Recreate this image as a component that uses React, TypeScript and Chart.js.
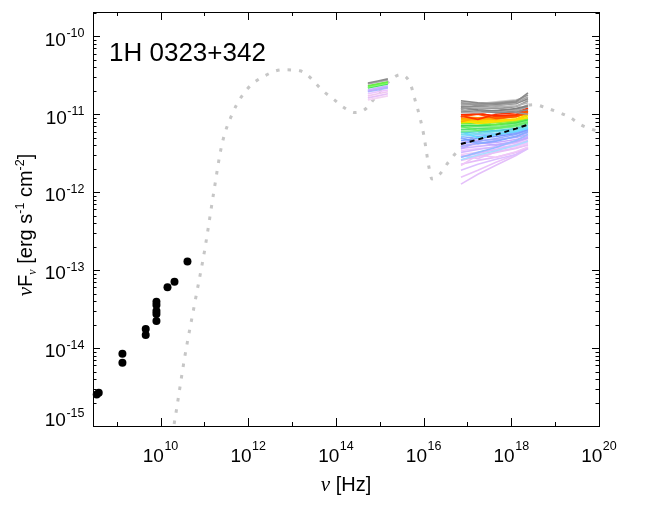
import { useEffect, useRef } from 'react'
import { Chart, registerables } from 'chart.js'

Chart.register(...registerables)

// radio points, nu [Hz] and nuFnu [erg s-1 cm-2]
const radioFreq = [3.5e8, 3.89e8, 1.35e9, 1.35e9, 4.59e9, 4.59e9, 8.06e9, 8.06e9, 8.06e9, 8.06e9, 8.06e9, 1.44e10, 2.08e10, 4.11e10]
const radioFlux = [2.54e-15, 2.67e-15, 8.45e-15, 6.5e-15, 1.76e-14, 1.47e-14, 3.94e-14, 3.56e-14, 2.99e-14, 2.74e-14, 2.23e-14, 6.04e-14, 7.08e-14, 1.29e-13]

// SED model curve (dotted grey)
const modelFreq = [1.85e10, 2.22e10, 3.57e10, 6.03e10, 1.02e11, 1.64e11, 2.49e11, 4.45e11, 9.27e11, 2.65e12, 6.15e12, 1.5e13, 5.58e13, 8.97e13, 1.52e14, 2.7e14, 4.57e14, 9.55e14, 1.7e15, 2.88e15, 4.86e15, 6.32e15, 8.22e15, 1.01e16, 1.19e16, 1.32e16, 1.55e16, 2.35e16, 3.4e16, 5.18e16, 1.93e17, 7.16e17, 3.29e18, 5.85e18, 1.22e19, 2.18e19, 3.68e19, 6.92e19, 1e20]
const modelFlux = [7.6e-16, 1.41e-15, 7.74e-15, 3.78e-14, 1.84e-13, 1.01e-12, 4.01e-12, 1.05e-11, 2.07e-11, 3.21e-11, 3.72e-11, 3.61e-11, 1.9e-11, 1.55e-11, 1.22e-11, 1.05e-11, 1.15e-11, 1.9e-11, 2.7e-11, 3.21e-11, 2.54e-11, 1.55e-11, 9.12e-12, 5.38e-12, 2.99e-12, 2.1e-12, 1.48e-12, 1.71e-12, 2.29e-12, 3.08e-12, 5.86e-12, 9.93e-12, 1.33e-11, 1.22e-11, 1.05e-11, 9.12e-12, 7.41e-12, 6.4e-12, 6.04e-12]

// optical/UV spectra, flux in units of 1e-11
const opticalFreq = [5.35e14, 9.05e14, 1.53e15]
const opticalFluxE11 = [
  [2.52, 2.67, 2.84],
  [2.45, 2.6, 2.75],
  [2.31, 2.45, 2.6],
  [2.24, 2.38, 2.52],
  [2.18, 2.31, 2.45],
  [2.05, 2.18, 2.31],
  [1.99, 2.11, 2.24],
  [1.94, 2.05, 2.18],
  [1.83, 1.94, 2.05],
  [1.72, 1.83, 1.94],
  [1.62, 1.72, 1.83],
  [1.53, 1.62, 1.72],
]
const opticalColors = ['#8c8c8c', '#aaaaaa', '#66ee44', '#88ff66', '#44dd66', '#c8b4ff', '#bbaaff', '#aabbff', '#eec4ff', '#f0c8f0', '#e8c0f8', '#f4d4f4']

// X-ray spectra, flux in units of 1e-11
const xrayFreq = [7.1e16, 1.73e17, 4.47e17, 1.28e18, 2.4e18]
const xrayFluxE11 = [
  [1.49, 1.4, 1.36, 1.44, 1.88],
  [1.4, 1.32, 1.4, 1.49, 1.77],
  [1.32, 1.36, 1.28, 1.4, 1.67],
  [1.25, 1.28, 1.32, 1.36, 1.58],
  [1.28, 1.21, 1.25, 1.28, 1.4],
  [1.18, 1.25, 1.18, 1.25, 1.49],
  [1.21, 1.14, 1.11, 1.18, 1.28],
  [1.11, 1.18, 1.21, 1.11, 1.25],
  [1.08, 1.11, 1.05, 1.08, 1.14],
  [1.05, 1.05, 1.08, 1.14, 1.32],
  [1.44, 1.36, 1.44, 1.53, 1.62],
  [1.36, 1.4, 1.32, 1.44, 1.53],
  [1.15, 1.3, 1.2, 1.05, 1.0],
  [0.986, 1.015, 0.957, 0.986, 1.18],
  [0.929, 1.045, 0.929, 0.957, 1.11],
  [0.95, 0.86, 1.0, 1.05, 1.2],
  [0.93, 1.0, 0.88, 0.93, 1.05],
  [0.929, 0.903, 0.929, 0.986, 1.11],
  [0.876, 0.876, 0.903, 0.929, 1.045],
  [0.8, 0.9, 0.86, 0.95, 1.0],
  [0.851, 0.851, 0.876, 0.957, 1.08],
  [0.827, 0.827, 0.827, 0.876, 0.986],
  [0.84, 0.76, 0.8, 0.85, 0.9],
  [0.78, 0.803, 0.827, 0.851, 0.957],
  [0.803, 0.78, 0.78, 0.827, 0.903],
  [0.757, 0.757, 0.735, 0.803, 0.876],
  [0.714, 0.714, 0.735, 0.78, 0.851],
  [0.7, 0.62, 0.66, 0.72, 0.8],
  [0.673, 0.693, 0.693, 0.757, 0.827],
  [0.635, 0.654, 0.673, 0.735, 0.78],
  [0.599, 0.617, 0.654, 0.693, 0.757],
  [0.581, 0.599, 0.617, 0.654, 0.735],
  [0.6, 0.5, 0.55, 0.6, 0.66],
  [0.548, 0.565, 0.599, 0.635, 0.693],
  [0.517, 0.548, 0.565, 0.617, 0.673],
  [0.488, 0.517, 0.548, 0.581, 0.654],
  [0.46, 0.488, 0.517, 0.565, 0.635],
  [0.5, 0.42, 0.45, 0.52, 0.6],
  [0.421, 0.447, 0.488, 0.548, 0.617],
  [0.386, 0.421, 0.46, 0.517, 0.581],
  [0.28, 0.324, 0.375, 0.46, 0.548],
  [0.26, 0.3, 0.34, 0.4, 0.45],
  [0.434, 0.46, 0.474, 0.502, 0.548],
  [0.397, 0.421, 0.434, 0.474, 0.517],
  [0.36, 0.44, 0.4, 0.45, 0.5],
  [0.364, 0.386, 0.409, 0.447, 0.502],
  [0.324, 0.353, 0.386, 0.434, 0.488],
  [0.28, 0.314, 0.353, 0.409, 0.46],
  [0.343, 0.364, 0.375, 0.397, 0.434],
  [0.305, 0.324, 0.353, 0.386, 0.421],
  [0.3, 0.27, 0.33, 0.37, 0.4],
  [0.256, 0.288, 0.324, 0.364, 0.409],
  [0.22, 0.3, 0.28, 0.33, 0.38],
  [0.228, 0.256, 0.28, 0.324, 0.375],
  [0.191, 0.228, 0.264, 0.305, 0.364],
  [0.155, 0.191, 0.242, 0.305, 0.375],
  [0.127, 0.17, 0.222, 0.296, 0.364],
  [0.386, 0.397, 0.409, 0.421, 0.46],
]
const xrayColors = [
  '#8c8c8c', '#999999', '#a6a6a6', '#8c8c8c', '#b3b3b3', '#999999', '#808080', '#a6a6a6', '#8c8c8c', '#b3b3b3', '#cccccc', '#d0d0d0', '#9a9a9a',
  '#ff2a00', '#ff4a00', '#ff3300', '#ff5500', '#ff8c00', '#ffa200', '#ffaa00', '#ffb800', '#ffd900', '#ffe000', '#e2e800',
  '#a0ee30', '#66ee44', '#40dd55', '#66ee66', '#88ee88', '#55dd77', '#77ee99',
  '#55ccdd', '#66ddff', '#77ddee', '#88ccff',
  '#88aaff', '#7799ff', '#88aaff', '#99aaff', '#aab0ff', '#99bbff', '#aaddff',
  '#bbaaff', '#c8aaff', '#c0a8ff', '#ccb4ff', '#d4b8ff', '#dcbcff',
  '#eec4ff', '#f2ccf8', '#e8c0f8', '#e8c0f4', '#f0c8f8', '#e6bcf8', '#ddc0ff', '#eac4fa', '#e4c0fa', '#f6dcf6',
]
const meanXrayFluxE11 = [0.416, 0.474, 0.548, 0.654, 0.735]

const sourceName = '1H 0323+342'
const xLabelExps = [10, 12, 14, 16, 18, 20]
const yLabelExps = [-10, -11, -12, -13, -14, -15]

const SANS = '"Liberation Sans", Arial, Helvetica, sans-serif'
const SERIF = '"Liberation Serif", "Times New Roman", serif'

type Seg = { t: string; font: string; dy: number }

function drawSegs(ctx: CanvasRenderingContext2D, segs: Seg[], cx: number, base: number) {
  let total = 0
  for (const s of segs) {
    ctx.font = s.font
    total += ctx.measureText(s.t).width
  }
  let x = cx - total / 2
  for (const s of segs) {
    ctx.font = s.font
    ctx.fillText(s.t, x, base + s.dy)
    x += ctx.measureText(s.t).width
  }
}

function drawPow(ctx: CanvasRenderingContext2D, exp: string, x: number, base: number, rise: number, align: 'center' | 'right') {
  ctx.font = `19px ${SANS}`
  const w1 = ctx.measureText('10').width
  ctx.font = `12.5px ${SANS}`
  const w2 = ctx.measureText(exp).width
  const total = w1 + 0.5 + w2
  const start = align === 'center' ? x - total / 2 : x - total
  ctx.font = `19px ${SANS}`
  ctx.fillText('10', start, base)
  ctx.font = `12.5px ${SANS}`
  ctx.fillText(exp, start + w1 + 0.5, base - rise)
}

const framePlugin = {
  id: 'framePlugin',
  afterDraw(chart: any) {
    const { ctx, chartArea: a, scales } = chart
    const xs = scales.x
    const ys = scales.y
    ctx.save()
    ctx.strokeStyle = '#000'
    ctx.fillStyle = '#000'
    ctx.lineWidth = 1
    ctx.strokeRect(a.left + 0.5, a.top + 0.5, a.right - a.left, a.bottom - a.top)
    ctx.beginPath()
    for (let e = 9; e <= 19; e++) {
      const px = Math.round(xs.getPixelForValue(Math.pow(10, e))) + 0.5
      const len = e % 2 === 0 ? 8 : 4
      ctx.moveTo(px, a.bottom)
      ctx.lineTo(px, a.bottom - len)
      ctx.moveTo(px, a.top)
      ctx.lineTo(px, a.top + len)
    }
    for (let e = -15; e <= -10; e++) {
      for (let m = 1; m <= 9; m++) {
        const v = m * Math.pow(10, e)
        if (v > ys.max) continue
        const py = Math.round(ys.getPixelForValue(v)) + 0.5
        const len = m === 1 ? 7 : 3.5
        ctx.moveTo(a.left, py)
        ctx.lineTo(a.left + len, py)
        ctx.moveTo(a.right, py)
        ctx.lineTo(a.right - len, py)
      }
    }
    ctx.stroke()

    ctx.textBaseline = 'alphabetic'
    ctx.textAlign = 'left'
    for (const e of xLabelExps) {
      const px = xs.getPixelForValue(Math.pow(10, e))
      drawPow(ctx, String(e), px, 453.7, 11.7, 'center')
    }
    for (const e of yLabelExps) {
      let base = ys.getPixelForValue(Math.pow(10, e)) + 9.3
      if (e === -15) base = 417.5
      drawPow(ctx, String(e), 76.5, base, 8.3, 'right')
    }

    // x axis title
    drawSegs(ctx, [
      { t: 'ν', font: `italic 21px ${SERIF}`, dy: 0 },
      { t: ' [Hz]', font: `20px ${SANS}`, dy: 0 },
    ], (a.left + a.right) / 2, 483)

    // y axis title
    ctx.save()
    ctx.translate(24, 217)
    ctx.rotate(-Math.PI / 2)
    drawSegs(ctx, [
      { t: 'ν', font: `italic 21px ${SERIF}`, dy: 0 },
      { t: 'F', font: `20px ${SANS}`, dy: 0 },
      { t: 'ν', font: `italic 12px ${SERIF}`, dy: 4 },
      { t: ' [erg s', font: `20px ${SANS}`, dy: 0 },
      { t: '-1', font: `12.5px ${SANS}`, dy: -8 },
      { t: ' cm', font: `20px ${SANS}`, dy: 0 },
      { t: '-2', font: `12.5px ${SANS}`, dy: -8 },
      { t: ']', font: `20px ${SANS}`, dy: 0 },
    ], 0, 0)
    ctx.restore()

    ctx.font = `26px ${SANS}`
    ctx.fillText(sourceName, 101, 53)
    ctx.restore()
  },
}

const App = () => {
  const canvas = useRef<HTMLCanvasElement>(null)

  useEffect(() => {
    if (!canvas.current) return
    const datasets: any[] = []

    datasets.push({
      label: 'radio',
      data: radioFreq.map((f, i) => ({ x: f, y: radioFlux[i] })),
      showLine: false,
      pointRadius: 4,
      pointBackgroundColor: '#000',
      pointBorderWidth: 0,
      clip: false,
      order: 0,
    })
    datasets.push({
      label: 'mean X-ray',
      data: xrayFreq.map((f, i) => ({ x: f, y: meanXrayFluxE11[i] * 1e-11 })),
      showLine: true,
      borderColor: '#000',
      borderWidth: 2,
      borderDash: [5, 4],
      pointRadius: 0,
      order: 1,
    })
    xrayFluxE11.forEach((row, k) => {
      datasets.push({
        label: 'xray' + k,
        data: row.map((v, i) => ({ x: xrayFreq[i], y: v * 1e-11 })),
        showLine: true,
        borderColor: xrayColors[k],
        borderWidth: 1.6,
        pointRadius: 0,
        order: 2,
      })
    })
    opticalFluxE11.forEach((row, k) => {
      datasets.push({
        label: 'opt' + k,
        data: row.map((v, i) => ({ x: opticalFreq[i], y: v * 1e-11 })),
        showLine: true,
        borderColor: opticalColors[k],
        borderWidth: 1.6,
        pointRadius: 0,
        order: 2,
      })
    })
    datasets.push({
      label: 'model',
      data: modelFreq.map((f, i) => ({ x: f, y: modelFlux[i] })),
      showLine: true,
      borderColor: '#c6c6c6',
      borderWidth: 3,
      borderDash: [3.5, 8],
      cubicInterpolationMode: 'monotone',
      pointRadius: 0,
      order: 3,
    })

    const chart = new Chart(canvas.current, {
      type: 'scatter',
      data: { datasets },
      options: {
        responsive: false,
        animation: false,
        events: [],
        layout: { padding: { left: 85, right: 57, top: 1, bottom: 80 } },
        scales: {
          x: { type: 'logarithmic', min: 2.88e8, max: 1e20, display: false },
          y: { type: 'logarithmic', min: 1e-15, max: 2.05e-10, display: false },
        },
        plugins: { legend: { display: false }, tooltip: { enabled: false } },
      },
      plugins: [framePlugin],
    } as any)

    return () => {
      chart.destroy()
    }
  }, [])

  return (
    <div style={{ width: 648, height: 498 }}>
      <canvas ref={canvas} width={648} height={498} style={{ display: 'block' }} />
    </div>
  )
}

export default App
